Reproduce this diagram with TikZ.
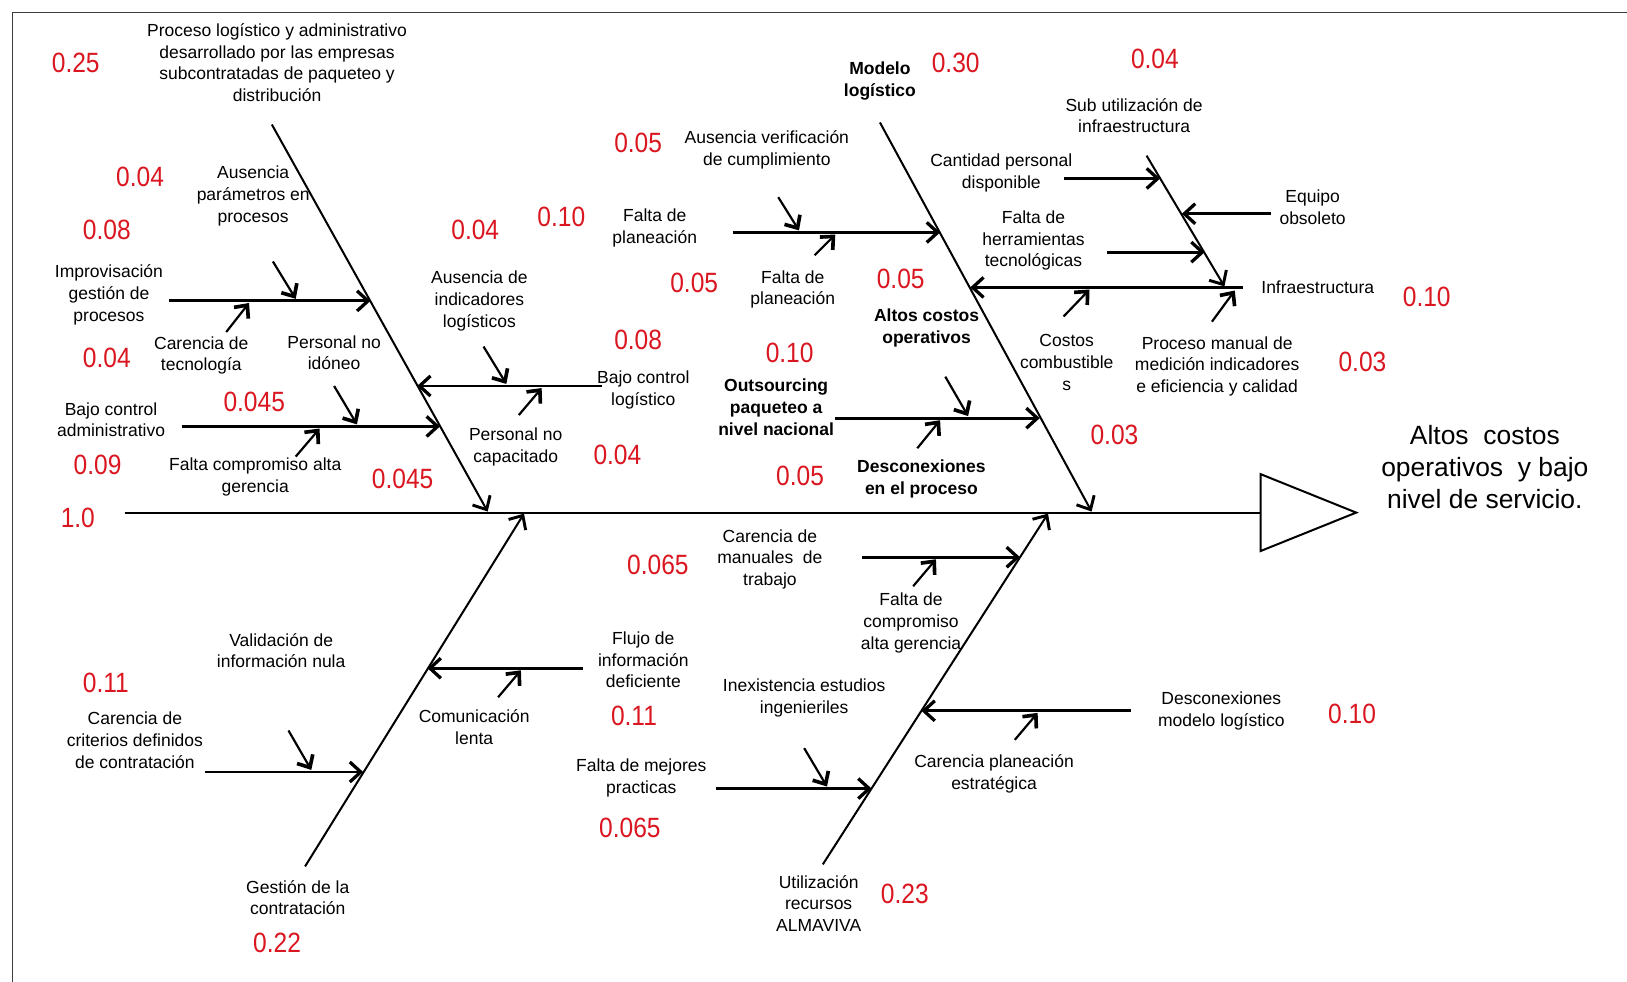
\documentclass[tikz,border=0pt]{standalone}
\usepackage{fontspec}
\setmainfont{Liberation Sans}
\newfontfamily\numfont[FakeStretch=0.88]{Liberation Sans}
\usetikzlibrary{arrows.meta}
\definecolor{numred}{RGB}{218,22,32}
\definecolor{framegray}{RGB}{60,60,60}

\begin{document}
\begin{tikzpicture}[x=0.02cm,y=-0.02cm,
  lbl/.style={align=center,inner sep=0pt,font=\fontsize{9.6}{11.9}\selectfont},
  blbl/.style={align=center,inner sep=0pt,font=\fontsize{9.6}{12.1}\selectfont\bfseries},
  effect/.style={align=center,inner sep=0pt,font=\fontsize{14.5}{17.6}\selectfont},
  num/.style={inner sep=0pt,text=numred,font=\numfont\fontsize{15.3}{16}\selectfont},
  frame/.style={line width=0.8pt,draw=framegray},
  spine/.style={line width=1.1pt},
  bone/.style={line width=1.1pt,-{Straight Barb[length=6pt,width=11pt,line width=1.6pt]}},
  branch/.style={line width=1.6pt,-{Straight Barb[length=6pt,width=11pt,line width=1.8pt]}},
  minor/.style={line width=1.2pt,-{Straight Barb[length=5.5pt,width=10pt,line width=2pt]}}]

\useasboundingbox (0,0) rectangle (1568,946);

% outer frame (top and left edges)
\coordinate (fBL) at (12,946);
\coordinate (fTL) at (12,12);
\coordinate (fTR) at (1568,12);
\draw[frame] (fBL) -- (fTL) -- (fTR);

% ---------- spine and head ----------
\coordinate (sp0) at (120,494);
\coordinate (sp1) at (1215,494);
\coordinate (hd1) at (1215,457);
\coordinate (hd2) at (1307,494);
\coordinate (hd3) at (1215,531);
\draw[spine] (sp0) -- (sp1);
\draw[spine,fill=white] (hd1) -- (hd2) -- (hd3) -- cycle;
\node[effect] (eff) at (1431,450.5) {Altos~~costos\\operativos~~y bajo\\nivel de servicio.};
\node[num] (v10) at (75,499) {1.0};

% ---------- bone 1: proceso logistico ----------
\coordinate (b1a) at (262,120);
\coordinate (b1b) at (470,493);
\draw[bone] (b1a) -- (b1b);
\node[lbl] (proc) at (267,60.5) {Proceso logístico y administrativo\\desarrollado por las empresas\\subcontratadas de paqueteo y\\distribución};
\node[num] (v025) at (73,61) {0.25};

\coordinate (imA) at (163,290);
\coordinate (imB) at (357,290);
\draw[branch] (imA) -- (imB);
\coordinate (apA) at (263,252);
\coordinate (apB) at (285,288);
\draw[minor] (apA) -- (apB);
\coordinate (ctA) at (218,320);
\coordinate (ctB) at (240,292);
\draw[minor] (ctA) -- (ctB);

\coordinate (baA) at (175,411);
\coordinate (baB) at (424,411);
\draw[branch] (baA) -- (baB);
\coordinate (piA) at (322,372);
\coordinate (piB) at (344,409);
\draw[minor] (piA) -- (piB);
\coordinate (fcA) at (285,440);
\coordinate (fcB) at (308,413);
\draw[minor] (fcA) -- (fcB);

\coordinate (blA) at (580,372);
\coordinate (blB) at (402,372);
\draw[branch] (blA) -- (blB);
\coordinate (aiA) at (466,334);
\coordinate (aiB) at (488,370);
\draw[minor] (aiA) -- (aiB);
\coordinate (pcA) at (500,400);
\coordinate (pcB) at (522,374);
\draw[minor] (pcA) -- (pcB);

\node[num] (v004a) at (135,170) {0.04};
\node[lbl] (auspar) at (244,189) {Ausencia\\parámetros en\\procesos};
\node[num] (v008a) at (103,222) {0.08};
\node[lbl] (improv) at (105,284) {Improvisación\\gestión de\\procesos};
\node[num] (v004b) at (103,345) {0.04};
\node[lbl] (cartec) at (194,342.5) {Carencia de\\tecnología};
\node[lbl] (pernoid) at (322,340) {Personal no\\idóneo};
\node[num] (v0045a) at (245,387) {0.045};
\node[lbl] (bajoadm) at (107,404.5) {Bajo control\\administrativo};
\node[num] (v009) at (94,448) {0.09};
\node[lbl] (faltacomp) at (246,460) {Falta compromiso alta\\gerencia};
\node[num] (v0045b) at (388,462) {0.045};
\node[num] (v004c) at (458,222) {0.04};
\node[lbl] (ausind) at (462,290) {Ausencia de\\indicadores\\logísticos};
\node[num] (v008b) at (615,328) {0.08};
\node[lbl] (bajolog) at (620,375.5) {Bajo control\\logístico};
\node[lbl] (percap) at (497,430.5) {Personal no\\capacitado};
\node[num] (v004d) at (595,438) {0.04};

% ---------- bone 2: modelo logistico ----------
\coordinate (b2a) at (848,118);
\coordinate (b2b) at (1052,493);
\draw[bone] (b2a) -- (b2b);
\node[blbl] (modelo) at (848,78.5) {Modelo\\logístico};
\node[num] (v030) at (921,61) {0.30};

\coordinate (fpA) at (706,224);
\coordinate (fpB) at (906,224);
\draw[branch] (fpA) -- (fpB);
\coordinate (avA) at (750,190);
\coordinate (avB) at (770,222);
\draw[minor] (avA) -- (avB);
\coordinate (f2A) at (785,246);
\coordinate (f2B) at (805,226);
\draw[minor] (f2A) -- (f2B);

\coordinate (inA) at (1198,277);
\coordinate (inB) at (935,277);
\draw[branch] (inA) -- (inB);
\coordinate (suA) at (1105,150);
\coordinate (suB) at (1180,276);
\draw[bone] (suA) -- (suB);
\coordinate (cpA) at (1025,172);
\coordinate (cpB) at (1118,172);
\draw[branch] (cpA) -- (cpB);
\coordinate (eoA) at (1225,206);
\coordinate (eoB) at (1139,206);
\draw[branch] (eoA) -- (eoB);
\coordinate (fhA) at (1067,243);
\coordinate (fhB) at (1161,243);
\draw[branch] (fhA) -- (fhB);
\coordinate (ccA) at (1025,305);
\coordinate (ccB) at (1050,279);
\draw[minor] (ccA) -- (ccB);
\coordinate (pmA) at (1168,310);
\coordinate (pmB) at (1190,280);
\draw[minor] (pmA) -- (pmB);

\coordinate (ouA) at (805,403);
\coordinate (ouB) at (1002,403);
\draw[branch] (ouA) -- (ouB);
\coordinate (acA) at (911,363);
\coordinate (acB) at (933,401);
\draw[minor] (acA) -- (acB);
\coordinate (dpA) at (884,432);
\coordinate (dpB) at (906,405);
\draw[minor] (dpA) -- (dpB);

\node[num] (v004e) at (1113,57) {0.04};
\node[lbl] (subutil) at (1093,111.5) {Sub utilización de\\infraestructura};
\node[lbl] (cantper) at (965,167) {Cantidad personal\\disponible};
\node[lbl] (equipo) at (1265,200) {Equipo\\obsoleto};
\node[lbl] (faltaherr) at (996,232) {Falta de\\herramientas\\tecnológicas};
\node[lbl] (infra) at (1270,277) {Infraestructura};
\node[num] (v010a) at (1375,286) {0.10};
\node[num] (v005a) at (615,138) {0.05};
\node[lbl] (ausver) at (739,144.5) {Ausencia verificación\\de cumplimiento};
\node[num] (v010b) at (541,209) {0.10};
\node[lbl] (faltaplan1) at (631,220) {Falta de\\planeación};
\node[num] (v005b) at (669,273) {0.05};
\node[lbl] (faltaplan2) at (764,279) {Falta de\\planeación};
\node[num] (v005c) at (868,269) {0.05};
\node[blbl] (altoscost) at (893,316.5) {Altos costos\\operativos};
\node[lbl] (costcomb) at (1028,349.5) {Costos\\combustible\\s};
\node[lbl] (procman) at (1173,353) {Proceso manual de\\medición indicadores\\e eficiencia y calidad};
\node[num] (v003a) at (1313,349) {0.03};
\node[num] (v010c) at (761,340) {0.10};
\node[blbl] (outs) at (748,392.5) {Outsourcing\\paqueteo a\\nivel nacional};
\node[num] (v003b) at (1074,419) {0.03};
\node[num] (v005d) at (771,459) {0.05};
\node[blbl] (descproc) at (888,462) {Desconexiones\\en el proceso};

% ---------- bone 3: gestion de la contratacion ----------
\coordinate (b3a) at (294,835);
\coordinate (b3b) at (505,495);
\draw[bone] (b3a) -- (b3b);
\node[lbl] (gestion) at (287,865) {Gestión de la\\contratación};
\node[num] (v022) at (267,909) {0.22};

\coordinate (crA) at (198,744);
\coordinate (crB) at (350,744);
\draw[branch] (crA) -- (crB);
\coordinate (vaA) at (278,704);
\coordinate (vaB) at (300,742);
\draw[minor] (vaA) -- (vaB);
\coordinate (flA) at (562,644);
\coordinate (flB) at (412,644);
\draw[branch] (flA) -- (flB);
\coordinate (coA) at (480,672);
\coordinate (coB) at (502,646);
\draw[minor] (coA) -- (coB);

\node[lbl] (valid) at (271,627) {Validación de\\información nula};
\node[num] (v011a) at (102,658) {0.11};
\node[lbl] (carcrit) at (130,713.5) {Carencia de\\criterios definidos\\de contratación};
\node[lbl] (comun) at (457,701) {Comunicación\\lenta};
\node[lbl] (flujo) at (620,636) {Flujo de\\información\\deficiente};
\node[num] (v011b) at (611,690) {0.11};

% ---------- bone 4: utilizacion recursos ----------
\coordinate (b4a) at (793,833);
\coordinate (b4b) at (1010,495);
\draw[bone] (b4a) -- (b4b);
\node[lbl] (utiliz) at (789,870.5) {Utilización\\recursos\\ALMAVIVA};
\node[num] (v023) at (872,861) {0.23};

\coordinate (cmA) at (831,537);
\coordinate (cmB) at (983,537);
\draw[branch] (cmA) -- (cmB);
\coordinate (fgA) at (880,565);
\coordinate (fgB) at (902,539);
\draw[minor] (fgA) -- (fgB);
\coordinate (dmA) at (1090,685);
\coordinate (dmB) at (888,685);
\draw[branch] (dmA) -- (dmB);
\coordinate (cpeA) at (978,713);
\coordinate (cpeB) at (1000,687);
\draw[minor] (cpeA) -- (cpeB);
\coordinate (fmA) at (690,760);
\coordinate (fmB) at (840,760);
\draw[branch] (fmA) -- (fmB);
\coordinate (ieA) at (775,721);
\coordinate (ieB) at (797,758);
\draw[minor] (ieA) -- (ieB);

\node[lbl] (carman) at (742,539) {Carencia de\\manuales~~de\\trabajo};
\node[num] (v0065a) at (634,544) {0.065};
\node[lbl] (faltacomp2) at (878,600.5) {Falta de\\compromiso\\alta gerencia};
\node[lbl] (inex) at (775,672.5) {Inexistencia estudios\\ingenieriles};
\node[lbl] (descmod) at (1177,685.5) {Desconexiones\\modelo logístico};
\node[num] (v010d) at (1303,688) {0.10};
\node[lbl] (carplan) at (958,745.5) {Carencia planeación\\estratégica};
\node[lbl] (faltamej) at (618,749.5) {Falta de mejores\\practicas};
\node[num] (v0065b) at (607,798) {0.065};

\end{tikzpicture}
\end{document}
